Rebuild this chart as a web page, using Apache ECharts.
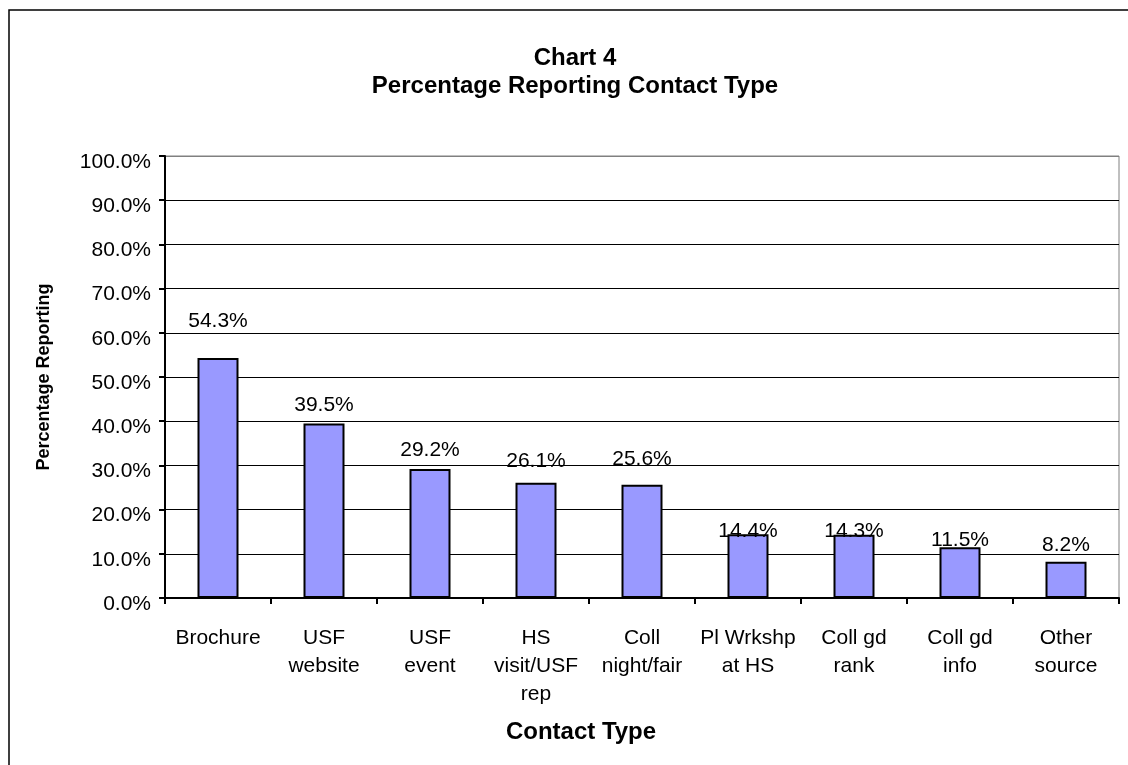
<!DOCTYPE html>
<html>
<head>
<meta charset="utf-8">
<script src="https://cdn.jsdelivr.net/npm/echarts@6/dist/echarts.min.js"></script>
<style>
  html, body { margin: 0; padding: 0; background: #fff; }
</style>
</head>
<body>
<div id="myChart" style="width: 1128px; height: 765px;"></div>
<script>
  // categories as they are wrapped on the axis
  const contactTypes = ['Brochure', 'USF\nwebsite', 'USF\nevent', 'HS\nvisit/USF\nrep', 'Coll\nnight/fair',
    'Pl Wrkshp\nat HS', 'Coll gd\nrank', 'Coll gd\ninfo', 'Other\nsource'];
  const pctReporting = [54.3, 39.5, 29.2, 26.1, 25.6, 14.4, 14.3, 11.5, 8.2];
  const yTicks = [0, 10, 20, 30, 40, 50, 60, 70, 80, 90, 100];
  // labels were nudged by hand in the original, distance above bar top
  const labelLift = [25, 6, 7, 9, 14, -9, -8, -5, 5];

  const font = 'Liberation Sans, Arial, sans-serif';
  let myChart = echarts.init(document.getElementById('myChart'));

  myChart.setOption({
    backgroundColor: '#fff',
    animation: false,
    graphic: [
      {
        type: 'rect',
        shape: { x: 9, y: 10, width: 1300, height: 900 },
        style: { fill: 'none', stroke: '#000', lineWidth: 1.5 },
        silent: true
      },
      {
        type: 'text',
        x: 575, y: 58,
        style: { text: 'Chart 4', font: 'bold 24px ' + font, fill: '#000', textAlign: 'center', textVerticalAlign: 'middle' }
      },
      {
        type: 'text',
        x: 575, y: 86,
        style: { text: 'Percentage Reporting Contact Type', font: 'bold 24px ' + font, fill: '#000', textAlign: 'center', textVerticalAlign: 'middle' }
      },
      {
        type: 'text',
        x: 581, y: 732,
        style: { text: 'Contact Type', font: 'bold 24px ' + font, fill: '#000', textAlign: 'center', textVerticalAlign: 'middle' }
      }
    ],
    grid: {
      left: 165,
      right: 9,
      top: 156,
      bottom: 167,
      show: true,
      borderColor: '#808080',
      borderWidth: 1
    },
    xAxis: {
      type: 'category',
      data: contactTypes,
      axisLine: { lineStyle: { color: '#000', width: 2 } },
      axisTick: { show: true, length: 6, lineStyle: { color: '#000', width: 2 } },
      axisLabel: {
        interval: 0,
        margin: 26,
        fontFamily: font,
        fontSize: 21,
        lineHeight: 28,
        color: '#000'
      }
    },
    yAxis: {
      type: 'value',
      min: yTicks[0],
      max: yTicks[yTicks.length - 1],
      interval: 10,
      name: 'Percentage Reporting',
      nameLocation: 'middle',
      nameGap: 112,
      nameTextStyle: { fontFamily: font, fontWeight: 'bold', fontSize: 18, color: '#000' },
      axisLine: { show: true, lineStyle: { color: '#000', width: 2 } },
      axisTick: { show: true, length: 6, lineStyle: { color: '#000', width: 2 } },
      axisLabel: {
        margin: 14,
        fontFamily: font,
        fontSize: 21,
        color: '#000',
        verticalAlign: 'top',
        lineHeight: 12,
        formatter: v => v.toFixed(1) + '%'
      },
      splitLine: {
        lineStyle: {
          color: yTicks.map((t, i) => i === yTicks.length - 1 ? '#808080' : '#000'),
          width: 1
        }
      }
    },
    series: [
      {
        name: 'Percentage Reporting',
        type: 'bar',
        barWidth: 41,
        itemStyle: { color: '#9999FF', borderColor: '#000', borderWidth: 2 },
        data: pctReporting.map((v, i) => ({
          value: v,
          label: { distance: labelLift[i] }
        })),
        label: {
          show: true,
          position: 'top',
          fontFamily: font,
          fontSize: 21,
          lineHeight: 24,
          color: '#000',
          formatter: p => p.value.toFixed(1) + '%'
        }
      }
    ]
  });
</script>
</body>
</html>
